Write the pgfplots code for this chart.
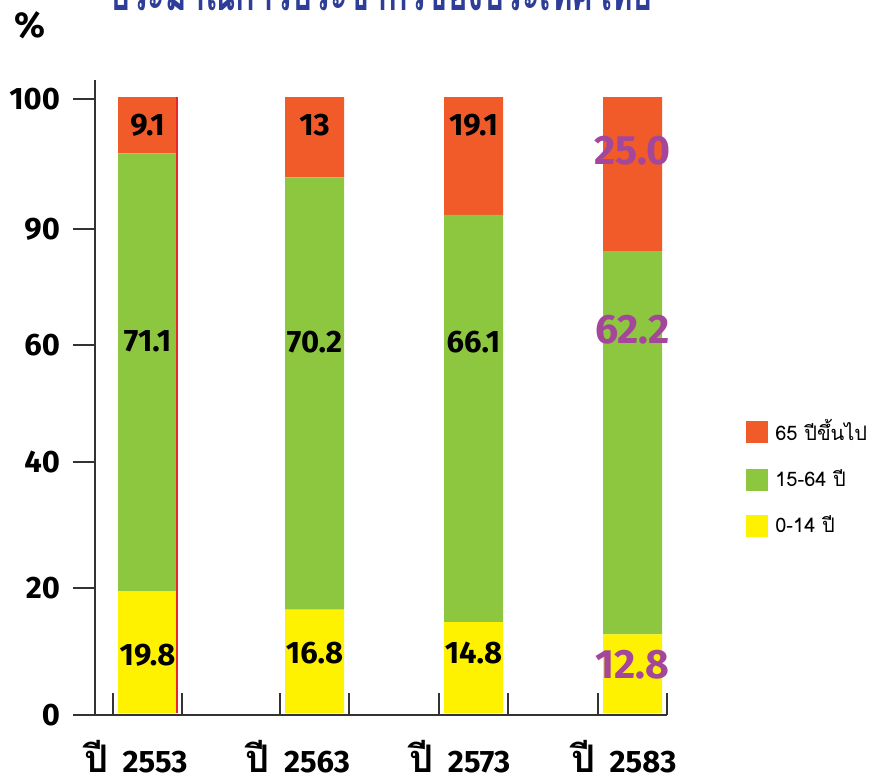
\documentclass[border=0pt]{standalone}
\usepackage{fontspec}
\usepackage{graphicx}
\usepackage{pgfplots}
\usepackage{pgfplotstable}
\pgfplotsset{compat=1.18}
\setmainfont{Fira Sans}
\newfontfamily\thai[Script=Thai]{Loma}
\definecolor{org}{HTML}{F15A29}
\definecolor{grn}{HTML}{8DC63F}
\definecolor{yel}{HTML}{FFF200}
\definecolor{pur}{HTML}{A4479B}
\definecolor{ttl}{HTML}{2E3D98}
\definecolor{redl}{HTML}{E8262B}
\pgfplotstableread{
x yel grn org
147.5 19.8 71.1 9.1
314.5 16.8 70.2 13
473.5 14.8 66.1 19.1
632.5 12.8 62.2 25.0
}\data
\tikzset{blab/.style={font=\bfseries\fontsize{15.5}{15.5}\selectfont, inner sep=0pt},
         plab/.style={font=\bfseries\fontsize{20.5}{20.5}\selectfont, text=pur, inner sep=0pt}}
\pgfplotsset{sqleg/.style={legend image code/.code={\fill[##1] (0pt,-5.5pt) rectangle (11pt,5.5pt);}}}
\newcommand{\thpi}{{\fontsize{19}{19}\selectfont\thai\bfseries ปี}}
\begin{document}
\begin{tikzpicture}[x=1pt,y=1pt]
\useasboundingbox (0,0) rectangle (435,390.5);
\node[anchor=base, text=ttl, inner sep=0pt] at (190.5,385) {\scalebox{0.63}[1]{\fontsize{26}{26}\selectfont\thai\bfseries ประมาณการประชากรของประเทศไทย}};
\node[font=\bfseries\fontsize{18}{18}\selectfont, inner sep=0pt] at (15,377.75) {\%};
\begin{axis}[
  at={(47.5pt,33pt)}, anchor=south west,
  scale only axis, width=286pt, height=317.5pt,
  xmin=95, xmax=667, ymin=-0.3, ymax=102.8,
  axis x line=bottom, axis y line=left,
  axis line style={-, draw=black!80, line width=0.75pt},
  ybar stacked, bar width=59,
  tick align=inside,
  major tick length=11pt,
  tick style={draw=black!80, line width=0.75pt},
  xtick={113,182,280,349,439,508,598,667}, xticklabels={},
  extra x ticks={136,298,460,624},
  extra x tick labels={\thpi\hspace{7pt}2553,\thpi\hspace{7pt}2563,\thpi\hspace{7pt}2573,\thpi\hspace{7pt}2583},
  extra x tick style={major tick length=0pt},
  xticklabel style={anchor=base, yshift=-28.5pt, font=\bfseries\fontsize{15.5}{15.5}\selectfont},
  ytick={-0.3,20.3,40.8,59.8,78.6,99.7},
  yticklabels={0,20,40,60,90,100},
  ytick style={xshift=-11pt},
  yticklabel style={xshift=-14pt, font=\bfseries\fontsize{15.5}{15.5}\selectfont},
  /pgf/number format/assume math mode=true,
  legend style={draw=none, fill=none, at={(1.138,0.472)}, anchor=north west, inner sep=0pt,
    font=\thai\fontsize{10}{12}\selectfont, row sep=9pt, cells={anchor=west},
    /tikz/every odd column/.append style={column sep=1.5pt}},
  reverse legend,
]
\addplot[fill=yel, draw=none, sqleg] table[x=x,y=yel]{\data};
\addplot[fill=grn, draw=none, sqleg] table[x=x,y=grn]{\data};
\addplot[fill=org, draw=none, sqleg] table[x=x,y=org]{\data};
\legend{0-14 ปี,15-64 ปี,65 ปีขึ้นไป}
\coordinate (r0) at (axis cs:177,0);
\coordinate (r1) at (axis cs:177,100);
\coordinate (a1) at (axis cs:147.5,95.5);
\coordinate (a2) at (axis cs:147.5,60.3);
\coordinate (a3) at (axis cs:147.5,9.4);
\coordinate (b1) at (axis cs:314.5,95.5);
\coordinate (b2) at (axis cs:314.5,60.3);
\coordinate (b3) at (axis cs:314.5,9.7);
\coordinate (c1) at (axis cs:473.5,95.5);
\coordinate (c2) at (axis cs:473.5,60.3);
\coordinate (c3) at (axis cs:473.5,9.7);
\coordinate (d1) at (axis cs:632.5,91.4);
\coordinate (d2) at (axis cs:632.5,62.2);
\coordinate (d3) at (axis cs:632.5,7.8);
\end{axis}
\draw[redl, line width=0.7pt] (r0) -- (r1);
\node[blab] at (a1) {9.1};
\node[blab] at (a2) {71.1};
\node[blab] at (a3) {19.8};
\node[blab] at (b1) {13};
\node[blab] at (b2) {70.2};
\node[blab] at (b3) {16.8};
\node[blab] at (c1) {19.1};
\node[blab] at (c2) {66.1};
\node[blab] at (c3) {14.8};
\node[plab] at (d1) {25.0};
\node[plab] at (d2) {62.2};
\node[plab] at (d3) {12.8};
\end{tikzpicture}
\end{document}
